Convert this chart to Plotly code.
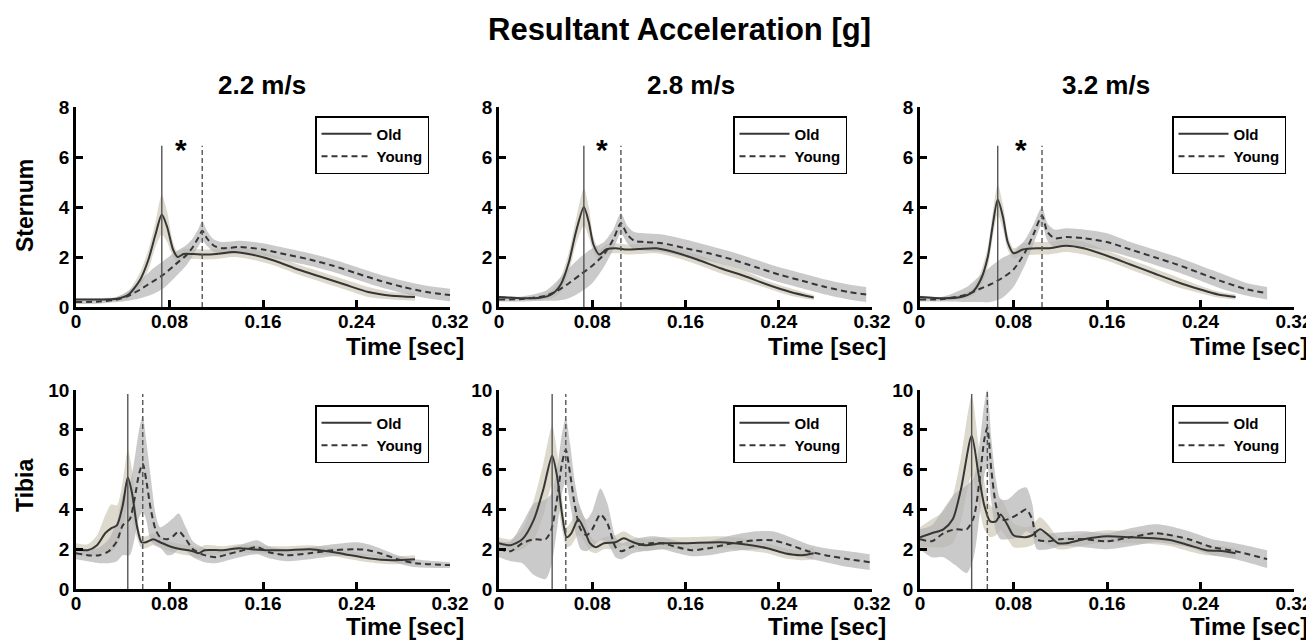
import plotly.graph_objects as go

# ---------------- data ----------------
row_labels = ["Sternum", "Tibia"]
speed_labels = ["2.2 m/s", "2.8 m/s", "3.2 m/s"]
x_tick_vals = [0, 0.08, 0.16, 0.24, 0.32]
x_tick_text = ["0", "0.08", "0.16", "0.24", "0.32"]
sternum_y_ticks = [0, 2, 4, 6, 8]
tibia_y_ticks = [0, 2, 4, 6, 8, 10]
legend_names = ["Old", "Young"]

# Sternum 2.2 m/s
st22_old_t = [0, 0.02, 0.035, 0.045, 0.055, 0.062, 0.068, 0.0734, 0.078, 0.083, 0.087, 0.092, 0.1, 0.11, 0.12, 0.135, 0.15, 0.17, 0.19, 0.21, 0.23, 0.25, 0.27, 0.29]
st22_old_m = [0.3, 0.3, 0.33, 0.5, 1.1, 1.9, 2.9, 3.7, 3.2, 2.3, 2.0, 2.12, 2.12, 2.1, 2.12, 2.2, 2.1, 1.85, 1.5, 1.2, 0.9, 0.6, 0.45, 0.4]
st22_old_sd = [0.05, 0.05, 0.08, 0.15, 0.3, 0.4, 0.5, 0.8, 0.6, 0.3, 0.2, 0.2, 0.2, 0.2, 0.2, 0.2, 0.2, 0.2, 0.2, 0.2, 0.2, 0.2, 0.15, 0.15]
st22_young_t = [0, 0.02, 0.035, 0.045, 0.055, 0.065, 0.075, 0.085, 0.095, 0.1, 0.105, 0.108, 0.112, 0.118, 0.125, 0.14, 0.16, 0.18, 0.2, 0.22, 0.24, 0.26, 0.28, 0.3, 0.32]
st22_young_m = [0.2, 0.22, 0.3, 0.45, 0.7, 1.0, 1.3, 1.7, 2.1, 2.4, 2.8, 3.05, 2.75, 2.45, 2.35, 2.4, 2.3, 2.1, 1.9, 1.65, 1.35, 1.05, 0.8, 0.6, 0.48]
st22_young_sd = [0.08, 0.08, 0.1, 0.2, 0.35, 0.5, 0.55, 0.5, 0.4, 0.35, 0.35, 0.4, 0.3, 0.25, 0.25, 0.25, 0.25, 0.25, 0.25, 0.25, 0.25, 0.25, 0.25, 0.25, 0.25]

# Sternum 2.8 m/s
st28_old_t = [0, 0.02, 0.035, 0.045, 0.053, 0.06, 0.066, 0.0728, 0.077, 0.081, 0.086, 0.092, 0.1, 0.11, 0.12, 0.135, 0.15, 0.17, 0.19, 0.21, 0.23, 0.25, 0.27]
st28_old_m = [0.4, 0.35, 0.37, 0.5, 0.9, 1.8, 3.0, 4.0, 3.4, 2.5, 2.1, 2.3, 2.35, 2.3, 2.32, 2.35, 2.2, 1.9, 1.55, 1.25, 0.9, 0.6, 0.38]
st28_old_sd = [0.05, 0.05, 0.08, 0.15, 0.3, 0.4, 0.5, 0.75, 0.6, 0.3, 0.2, 0.2, 0.2, 0.2, 0.2, 0.2, 0.2, 0.2, 0.2, 0.2, 0.15, 0.15, 0.1]
st28_young_t = [0, 0.02, 0.04, 0.05, 0.06, 0.07, 0.08, 0.09, 0.098, 0.1046, 0.11, 0.116, 0.125, 0.14, 0.16, 0.18, 0.2, 0.22, 0.24, 0.26, 0.28, 0.3, 0.315]
st28_young_m = [0.3, 0.32, 0.45, 0.65, 0.95, 1.3, 1.65, 2.1, 2.7, 3.35, 2.9, 2.65, 2.6, 2.55, 2.35, 2.15, 1.9, 1.6, 1.3, 1.05, 0.8, 0.6, 0.5]
st28_young_sd = [0.08, 0.1, 0.2, 0.4, 0.6, 0.7, 0.7, 0.5, 0.4, 0.4, 0.35, 0.35, 0.35, 0.35, 0.35, 0.3, 0.3, 0.3, 0.3, 0.3, 0.3, 0.3, 0.3]

# Sternum 3.2 m/s
st32_old_t = [0, 0.02, 0.035, 0.045, 0.052, 0.058, 0.062, 0.0665, 0.071, 0.075, 0.08, 0.088, 0.1, 0.11, 0.125, 0.14, 0.16, 0.18, 0.2, 0.22, 0.24, 0.255, 0.27]
st32_old_m = [0.4, 0.35, 0.4, 0.6, 1.1, 2.0, 3.2, 4.3, 3.6, 2.6, 2.15, 2.3, 2.35, 2.35, 2.45, 2.35, 2.05, 1.7, 1.35, 1.0, 0.7, 0.5, 0.4]
st32_old_sd = [0.05, 0.05, 0.08, 0.15, 0.3, 0.4, 0.5, 0.6, 0.5, 0.3, 0.2, 0.25, 0.25, 0.25, 0.25, 0.25, 0.2, 0.2, 0.2, 0.2, 0.15, 0.12, 0.1]
st32_young_t = [0, 0.02, 0.04, 0.05, 0.06, 0.07, 0.08, 0.09, 0.097, 0.1044, 0.109, 0.115, 0.125, 0.14, 0.16, 0.18, 0.2, 0.22, 0.24, 0.26, 0.28, 0.297]
st32_young_m = [0.3, 0.32, 0.5, 0.7, 0.9, 1.15, 1.5, 2.2, 2.9, 3.65, 3.0, 2.75, 2.8, 2.75, 2.6, 2.3, 2.0, 1.7, 1.35, 1.0, 0.7, 0.55]
st32_young_sd = [0.08, 0.1, 0.3, 0.5, 0.7, 0.8, 0.7, 0.5, 0.4, 0.35, 0.35, 0.35, 0.35, 0.35, 0.35, 0.3, 0.3, 0.3, 0.3, 0.3, 0.25, 0.25]

# Tibia 2.2 m/s
ti22_old_t = [0, 0.01, 0.018, 0.025, 0.03, 0.035, 0.04, 0.0443, 0.048, 0.052, 0.056, 0.06, 0.066, 0.072, 0.08, 0.09, 0.1, 0.105, 0.11, 0.125, 0.14, 0.15, 0.165, 0.18, 0.2, 0.215, 0.23, 0.25, 0.27, 0.29]
ti22_old_m = [2.0, 1.95, 2.2, 2.8, 3.05, 3.2, 4.2, 5.6, 4.8, 3.2, 2.35, 2.35, 2.5, 2.35, 2.15, 2.0, 1.9, 1.8, 1.95, 1.95, 2.05, 2.0, 1.95, 1.95, 2.0, 1.9, 1.75, 1.55, 1.45, 1.5]
ti22_old_sd = [0.3, 0.3, 0.5, 0.9, 1.2, 1.0, 1.2, 1.4, 1.2, 0.6, 0.3, 0.3, 0.3, 0.3, 0.25, 0.25, 0.25, 0.25, 0.25, 0.2, 0.2, 0.2, 0.2, 0.2, 0.2, 0.2, 0.2, 0.2, 0.2, 0.2]
ti22_young_t = [0, 0.01, 0.02, 0.028, 0.035, 0.04, 0.046, 0.05, 0.054, 0.0571, 0.06, 0.064, 0.068, 0.072, 0.078, 0.083, 0.088, 0.094, 0.1, 0.11, 0.12, 0.13, 0.14, 0.155, 0.165, 0.18, 0.2, 0.22, 0.24, 0.25, 0.26, 0.275, 0.29, 0.32]
ti22_young_m = [1.8, 1.7, 1.7, 1.9, 2.4, 3.2, 3.5, 4.5, 5.8, 6.3, 5.5, 4.0, 3.0, 2.6, 2.5, 2.65, 2.9, 2.5, 2.0, 1.7, 1.6, 1.75, 1.9, 2.1, 1.85, 1.7, 1.8, 1.95, 2.0, 1.95, 1.8, 1.5, 1.3, 1.2]
ti22_young_sd = [0.3, 0.3, 0.4, 0.6, 1.0, 1.5, 1.8, 2.0, 2.2, 2.4, 2.0, 1.6, 0.8, 0.5, 0.8, 0.9, 0.9, 0.6, 0.4, 0.35, 0.3, 0.3, 0.3, 0.35, 0.3, 0.3, 0.3, 0.3, 0.35, 0.3, 0.25, 0.2, 0.2, 0.15]

# Tibia 2.8 m/s
ti28_old_t = [0, 0.01, 0.02, 0.03, 0.038, 0.0456, 0.05, 0.054, 0.058, 0.062, 0.068, 0.073, 0.078, 0.083, 0.09, 0.1, 0.107, 0.115, 0.125, 0.14, 0.16, 0.19, 0.21, 0.23, 0.245, 0.26, 0.27]
ti28_old_m = [2.3, 2.2, 2.5, 3.5, 5.0, 6.7, 5.6, 3.8, 2.6, 2.8, 3.5, 3.0, 2.3, 2.1, 2.3, 2.35, 2.55, 2.35, 2.2, 2.3, 2.3, 2.35, 2.25, 2.05, 1.8, 1.7, 1.8]
ti28_old_sd = [0.3, 0.3, 0.5, 1.0, 1.3, 1.5, 1.2, 0.8, 0.5, 0.6, 0.8, 0.6, 0.4, 0.3, 0.3, 0.35, 0.35, 0.3, 0.3, 0.3, 0.3, 0.3, 0.3, 0.25, 0.25, 0.25, 0.3]
ti28_young_t = [0, 0.01, 0.02, 0.03, 0.04, 0.045, 0.05, 0.054, 0.0573, 0.061, 0.065, 0.07, 0.075, 0.08, 0.087, 0.093, 0.1, 0.105, 0.115, 0.13, 0.14, 0.15, 0.165, 0.18, 0.2, 0.22, 0.235, 0.25, 0.265, 0.28, 0.3, 0.318]
ti28_young_m = [2.0, 1.9, 2.3, 2.5, 2.5, 3.0, 4.6, 6.3, 7.0, 5.8, 4.2, 3.0, 2.7, 3.0, 3.75, 3.3, 2.1, 1.9, 2.15, 2.3, 2.3, 2.15, 1.95, 2.05, 2.3, 2.45, 2.45, 2.2, 1.9, 1.7, 1.5, 1.35]
ti28_young_sd = [0.4, 0.5, 1.0, 1.8, 2.0, 1.8, 1.5, 1.5, 1.6, 1.5, 1.2, 1.0, 0.8, 0.9, 1.3, 1.0, 0.5, 0.4, 0.35, 0.35, 0.3, 0.3, 0.3, 0.35, 0.4, 0.45, 0.45, 0.4, 0.35, 0.35, 0.4, 0.4]

# Tibia 3.2 m/s
ti32_old_t = [0, 0.01, 0.02, 0.028, 0.035, 0.0442, 0.05, 0.055, 0.06, 0.065, 0.069, 0.075, 0.08, 0.09, 0.096, 0.1027, 0.11, 0.118, 0.125, 0.14, 0.16, 0.18, 0.2, 0.215, 0.23, 0.245, 0.26, 0.27]
ti32_old_m = [2.6, 2.8, 3.0, 3.5, 5.0, 7.7, 5.8, 4.2, 3.4, 3.4, 3.75, 3.2, 2.7, 2.6, 2.7, 3.0, 2.7, 2.3, 2.3, 2.5, 2.65, 2.6, 2.55, 2.45, 2.2, 1.95, 1.9, 1.8]
ti32_old_sd = [0.5, 0.7, 0.9, 1.2, 1.6, 2.0, 1.5, 1.2, 0.8, 0.7, 0.8, 0.7, 0.6, 0.5, 0.5, 0.6, 0.5, 0.3, 0.3, 0.3, 0.3, 0.3, 0.3, 0.3, 0.3, 0.25, 0.25, 0.25]
ti32_young_t = [0, 0.01, 0.02, 0.03, 0.04, 0.046, 0.051, 0.055, 0.0576, 0.061, 0.065, 0.069, 0.075, 0.085, 0.091, 0.096, 0.1, 0.11, 0.12, 0.14, 0.16, 0.18, 0.2, 0.21, 0.23, 0.25, 0.27, 0.297]
ti32_young_m = [2.5, 2.4, 2.8, 3.0, 3.0, 3.6, 5.5, 7.5, 8.1, 6.0, 4.2, 3.5, 3.5, 3.8, 4.0, 3.5, 2.5, 2.4, 2.5, 2.5, 2.4, 2.6, 2.8, 2.75, 2.5, 2.1, 1.9, 1.5]
ti32_young_sd = [0.5, 0.8, 1.2, 1.8, 2.2, 2.0, 1.8, 1.8, 1.9, 1.6, 1.3, 1.0, 1.0, 1.2, 1.1, 0.8, 0.5, 0.4, 0.35, 0.4, 0.4, 0.45, 0.45, 0.45, 0.4, 0.4, 0.4, 0.45]

# peak-time markers (vertical lines) and their heights
old_peak_t = [0.0734, 0.0728, 0.0665, 0.0443, 0.0456, 0.0442]
young_peak_t = [0.108, 0.1046, 0.1044, 0.0571, 0.0573, 0.0576]
marker_top = [6.45, 6.45, 6.45, 9.8, 9.8, 9.8]
young_marker_top = [6.45, 6.45, 6.45, 9.8, 9.8, 10.0]
# significance asterisk (sternum panels)
star_t = [0.09, 0.0885, 0.086]
star_y = [6.3, 6.3, 6.3]

panels = [
    (st22_old_t, st22_old_m, st22_old_sd, st22_young_t, st22_young_m, st22_young_sd),
    (st28_old_t, st28_old_m, st28_old_sd, st28_young_t, st28_young_m, st28_young_sd),
    (st32_old_t, st32_old_m, st32_old_sd, st32_young_t, st32_young_m, st32_young_sd),
    (ti22_old_t, ti22_old_m, ti22_old_sd, ti22_young_t, ti22_young_m, ti22_young_sd),
    (ti28_old_t, ti28_old_m, ti28_old_sd, ti28_young_t, ti28_young_m, ti28_young_sd),
    (ti32_old_t, ti32_old_m, ti32_old_sd, ti32_young_t, ti32_young_m, ti32_young_sd),
]

# ---------------- layout geometry (pixels in the 1314x641 window) ----------------
OFF = 8                      # default page body margin
W, H = 1314 - OFF, 641 - OFF
FONT = "Liberation Sans, Arial, sans-serif"
col_px = [(76, 450), (499, 872), (920, 1294)]
row_px = [(107, 307), (390, 589)]


def px_x(p):
    return (p - OFF) / W


def px_y(p):
    return 1 - (p - OFF) / H


OLD_BAND = "rgb(221,217,205)"
YOUNG_BAND = "rgba(180,180,180,0.7)"
LINE_C = "#363636"

fig = go.Figure()

for k, (ot, om, osd, yt, ym, ysd) in enumerate(panels):
    idx = k + 1
    xa = "x" if idx == 1 else f"x{idx}"
    ya = "y" if idx == 1 else f"y{idx}"
    lg = "legend" if idx == 1 else f"legend{idx}"
    for t, m, sd, col in ((ot, om, osd, OLD_BAND), (yt, ym, ysd, YOUNG_BAND)):
        lo = [max(a - b, 0) for a, b in zip(m, sd)]
        hi = [a + b for a, b in zip(m, sd)]
        fig.add_trace(go.Scatter(x=t, y=lo, mode="lines", line=dict(width=0, shape="spline", smoothing=0.7),
                                 xaxis=xa, yaxis=ya, showlegend=False, hoverinfo="skip"))
        fig.add_trace(go.Scatter(x=t, y=hi, mode="lines", line=dict(width=0, shape="spline", smoothing=0.7),
                                 fill="tonexty", fillcolor=col, xaxis=xa, yaxis=ya,
                                 showlegend=False, hoverinfo="skip"))
    fig.add_trace(go.Scatter(x=ot, y=om, mode="lines", name=legend_names[0],
                             line=dict(color=LINE_C, width=2, shape="spline", smoothing=0.7),
                             xaxis=xa, yaxis=ya, legend=lg, legendrank=1))
    fig.add_trace(go.Scatter(x=yt, y=ym, mode="lines", name=legend_names[1],
                             line=dict(color=LINE_C, width=2, dash="6px,4px", shape="spline", smoothing=0.7),
                             xaxis=xa, yaxis=ya, legend=lg, legendrank=2))
    fig.add_trace(go.Scatter(x=[old_peak_t[k], old_peak_t[k]], y=[0, marker_top[k]], mode="lines",
                             line=dict(color="#555555", width=1.4), xaxis=xa, yaxis=ya,
                             showlegend=False, hoverinfo="skip"))
    fig.add_trace(go.Scatter(x=[young_peak_t[k], young_peak_t[k]], y=[0, young_marker_top[k]], mode="lines",
                             line=dict(color="#555555", width=1.4, dash="5px,3px"), xaxis=xa, yaxis=ya,
                             showlegend=False, hoverinfo="skip"))

layout = dict(
    template="none",
    width=W, height=H,
    margin=dict(l=0, r=0, t=0, b=0, pad=0, autoexpand=False),
    paper_bgcolor="white", plot_bgcolor="white",
    font=dict(family=FONT, color="black"),
    annotations=[],
)

for k in range(6):
    idx = k + 1
    r, c = divmod(k, 3)
    x0, x1 = col_px[c]
    y0, y1 = row_px[r]
    xs = "xaxis" if idx == 1 else f"xaxis{idx}"
    ys = "yaxis" if idx == 1 else f"yaxis{idx}"
    yt_vals = sternum_y_ticks if r == 0 else tibia_y_ticks
    axis_common = dict(showline=True, linewidth=2.5, linecolor="black", ticks="inside", ticklen=7,
                       tickwidth=2.5, tickcolor="black", showgrid=False, zeroline=False, automargin=False,
                       tickfont=dict(family=FONT, size=19, color="black", weight="bold"))
    layout[xs] = dict(domain=[px_x(x0), px_x(x1)], anchor="y" if idx == 1 else f"y{idx}",
                      range=[0, 0.32], tickvals=x_tick_vals, ticktext=x_tick_text,
                      ticklabelstandoff=-5, **axis_common)
    layout[ys] = dict(domain=[px_y(y1), px_y(y0)], anchor="x" if idx == 1 else f"x{idx}",
                      range=[0, yt_vals[-1]], tickvals=yt_vals, **axis_common)
    lg = "legend" if idx == 1 else f"legend{idx}"
    lx = {0: 315, 1: 733, 2: 1172}[c]
    ly = {0: 116, 1: 405}[r]
    layout[lg] = dict(x=px_x(lx), y=px_y(ly), xanchor="left", yanchor="top", bgcolor="white",
                      bordercolor="black", borderwidth=1.5, tracegroupgap=0, traceorder="normal",
                      itemwidth=50,
                      font=dict(family=FONT, size=15, color="black", weight="bold"))
    layout["annotations"].append(dict(text="Time [sec]", x=px_x(x1 + 16), y=px_y(346 if r == 0 else 626),
                                      xref="paper", yref="paper", xanchor="right", yanchor="middle",
                                      showarrow=False, font=dict(family=FONT, size=24, weight="bold")))

for c in range(3):
    ax = "x" if c == 0 else f"x{c + 1}"
    ay = "y" if c == 0 else f"y{c + 1}"
    layout["annotations"].append(dict(text="*", x=star_t[c], y=star_y[c], xref=ax, yref=ay,
                                      showarrow=False, xanchor="center", yanchor="middle",
                                      font=dict(family=FONT, size=30, weight="bold")))

layout["annotations"].append(dict(text="Resultant Acceleration [g]", x=px_x(679), y=px_y(29),
                                  xref="paper", yref="paper", showarrow=False,
                                  xanchor="center", yanchor="middle",
                                  font=dict(family=FONT, size=31, weight="bold")))
for c, lab in enumerate(speed_labels):
    cx = [262, 691, 1106][c]
    layout["annotations"].append(dict(text=lab, x=px_x(cx), y=px_y(85), xref="paper", yref="paper",
                                      showarrow=False, xanchor="center", yanchor="middle",
                                      font=dict(family=FONT, size=26, weight="bold")))
for r, lab in enumerate(row_labels):
    cy = [206, 486][r]
    layout["annotations"].append(dict(text=lab, x=px_x(25), y=px_y(cy), xref="paper", yref="paper",
                                      showarrow=False, textangle=-90, xanchor="center", yanchor="middle",
                                      font=dict(family=FONT, size=23, weight="bold")))

fig.update_layout(**layout)
fig.write_html("out.html")
